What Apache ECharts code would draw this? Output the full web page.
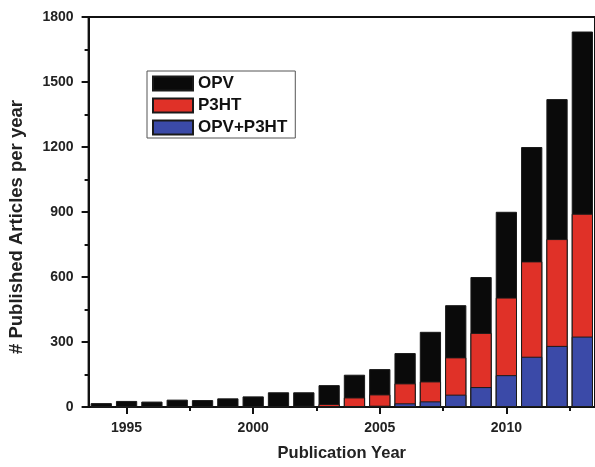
<!DOCTYPE html>
<html>
<head>
<meta charset="utf-8">
<script src="https://cdn.jsdelivr.net/npm/echarts@6/dist/echarts.min.js"></script>
<style>html,body{margin:0;padding:0;background:#fff;}#c{width:595px;height:467px;}</style>
</head>
<body>
<div id="c"></div>
<script>
var years = ['1994','1995','1996','1997','1998','1999','2000','2001','2002','2003','2004','2005','2006','2007','2008','2009','2010','2011','2012','2013'];
var opv   = [18, 28, 25, 34, 32, 40, 49, 68, 68, 101, 149, 175, 249, 347, 470, 600, 901, 1200, 1421, 1733];
var p3ht  = [0, 0, 0, 0, 4, 0, 0, 4, 6, 14, 44, 58, 109, 118, 229, 342, 505, 672, 775, 892];
var both  = [0, 0, 0, 0, 0, 0, 0, 0, 0, 0, 0, 6, 17, 26, 57, 92, 147, 232, 282, 325];
var majorYearTicks = [1995, 2000, 2005, 2010];
var minorYearTicks = [1997.5, 2002.5, 2007.5, 2012.5];
var yTicks = {min: 0, max: 1800, interval: 300};

var FONT = 'Liberation Sans, Arial, sans-serif';
var chart = echarts.init(document.getElementById('c'), null, {renderer: 'canvas'});
var border = {borderColor: '#1a1a1a', borderWidth: 1};
chart.setOption({
  animation: false,
  grid: {left: 88.6, right: -5.6, top: 17, bottom: 59, show: true, borderColor: '#111', borderWidth: 2, backgroundColor: 'transparent'},
  legend: {
    orient: 'vertical', left: 147, top: 71,
    itemWidth: 40, itemHeight: 14, itemGap: 5,
    padding: [4, 8, 2, 5],
    borderColor: '#555', borderWidth: 1,
    textStyle: {fontFamily: FONT, fontWeight: 'bold', fontSize: 17, lineHeight: 17, color: '#111', padding: [0, 0, 0, 0]},
    icon: 'rect',
    data: ['OPV', 'P3HT', 'OPV+P3HT']
  },
  xAxis: [
    {type: 'category', data: years, boundaryGap: true,
     axisLine: {show: true, lineStyle: {color: '#111', width: 2}},
     axisTick: {show: false}, axisLabel: {show: false}, splitLine: {show: false},
     name: 'Publication Year', nameLocation: 'middle', nameGap: 38,
     nameTextStyle: {fontFamily: FONT, fontSize: 16.5, fontWeight: 'bold', color: '#222'}},
    {type: 'value', min: 1993.5, max: 2013.5, position: 'bottom',
     axisLine: {show: false}, splitLine: {show: false},
     axisTick: {show: true, inside: false, length: 7, customValues: majorYearTicks, lineStyle: {color: '#111', width: 2}},
     axisLabel: {show: true, customValues: majorYearTicks, margin: 14, fontFamily: FONT, fontWeight: 'bold', fontSize: 14, color: '#222', formatter: function (v) { return String(v); }}},
    {type: 'value', min: 1993.5, max: 2013.5, position: 'bottom',
     axisLine: {show: false}, splitLine: {show: false},
     axisTick: {show: true, inside: false, length: 4, customValues: minorYearTicks, lineStyle: {color: '#111', width: 2}},
     axisLabel: {show: false}}
  ],
  yAxis: {
    type: 'value', min: yTicks.min, max: yTicks.max, interval: yTicks.interval,
    axisLine: {show: true, lineStyle: {color: '#111', width: 2}},
    axisTick: {show: true, inside: false, length: 7, lineStyle: {color: '#111', width: 2}},
    minorTick: {show: true, splitNumber: 2, length: 4, lineStyle: {color: '#111', width: 2}},
    splitLine: {show: false},
    axisLabel: {margin: 15, fontFamily: FONT, fontWeight: 'bold', fontSize: 14, color: '#222', formatter: function (v) { return String(v); }}
  },
  graphic: [{
    type: 'text', x: 17, y: 227, rotation: Math.PI / 2,
    style: {text: '# Published Articles per year', fontFamily: FONT, fontSize: 18.5, fontWeight: 'bold', fill: '#222', align: 'center', verticalAlign: 'middle'}
  }],
  series: [
    {name: 'OPV', type: 'bar', xAxisIndex: 0, data: opv, barCategoryGap: '16%', barGap: '-100%',
     itemStyle: Object.assign({color: '#0a0a0a'}, border)},
    {name: 'P3HT', type: 'bar', xAxisIndex: 0, data: p3ht, barGap: '-100%',
     itemStyle: Object.assign({color: '#e03128'}, border)},
    {name: 'OPV+P3HT', type: 'bar', xAxisIndex: 0, data: both, barGap: '-100%',
     itemStyle: Object.assign({color: '#3b4aa8'}, border)}
  ]
});
</script>
</body>
</html>
